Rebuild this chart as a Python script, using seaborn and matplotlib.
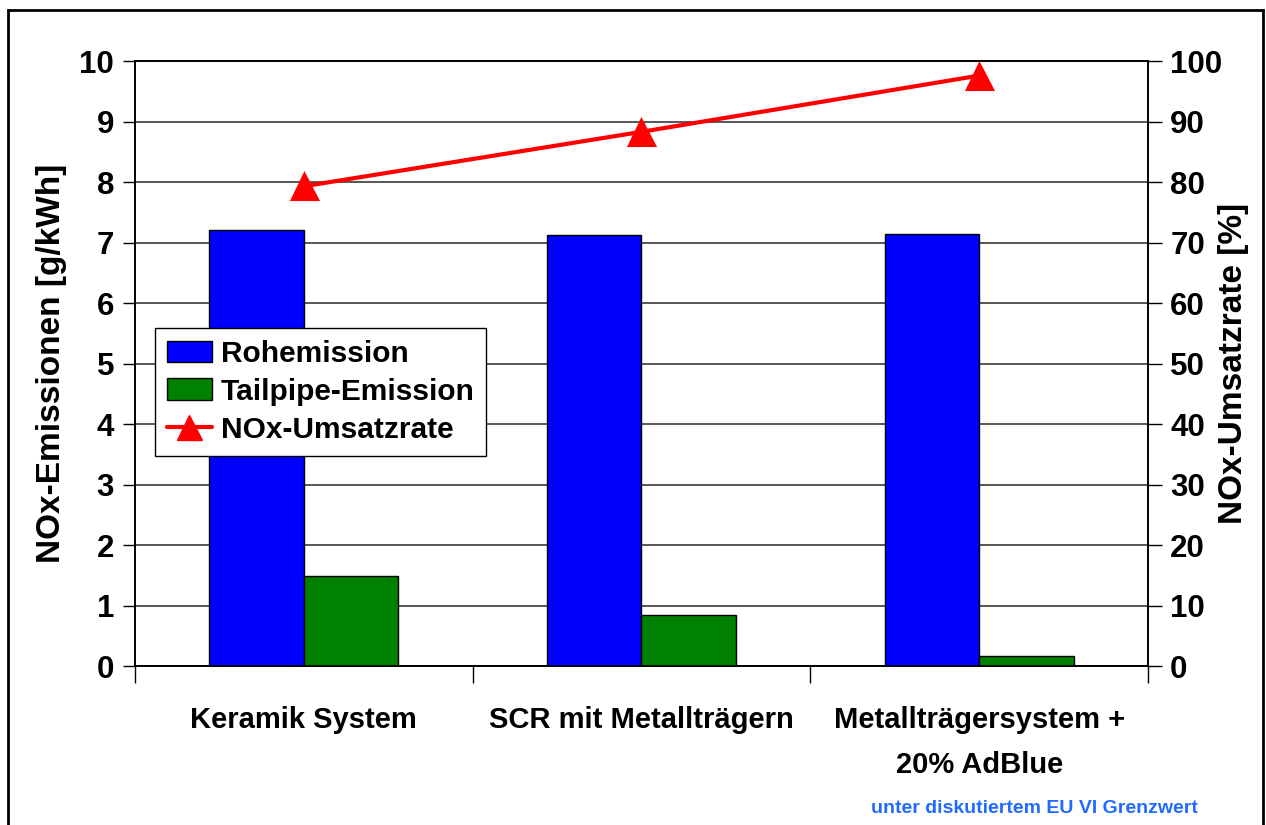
import matplotlib
matplotlib.use("Agg")
import matplotlib.pyplot as plt
from matplotlib.patches import Patch, Rectangle
from matplotlib.lines import Line2D
import seaborn as sns
import pandas as pd

# --- data ---
categories = ["Keramik System", "SCR mit Metallträgern", "Metallträgersystem +\n20% AdBlue"]
rohemission = [7.21, 7.12, 7.14]          # g/kWh
tailpipe = [1.49, 0.84, 0.16]             # g/kWh
umsatzrate = [79.3, 88.3, 97.6]           # %
series_names = ["Rohemission", "Tailpipe-Emission", "NOx-Umsatzrate"]

left_ticks = list(range(0, 11))
right_ticks = list(range(0, 101, 10))

df = pd.DataFrame({
    "Kategorie": categories * 2,
    "Wert": rohemission + tailpipe,
    "Serie": [series_names[0]] * 3 + [series_names[1]] * 3,
})

sns.set_theme(style="white")
plt.rcParams["font.family"] = ["Liberation Sans", "DejaVu Sans"]
plt.rcParams["font.weight"] = "bold"
for key in ["text.color", "axes.labelcolor", "xtick.color", "ytick.color"]:
    plt.rcParams[key] = "black"

fig = plt.figure(figsize=(12.66, 8.25), dpi=100)
ax = fig.add_axes([0.1066, 0.1927, 0.8002, 0.7333])

bar_colors = ["#0000FF", "#008000"]
sns.barplot(data=df, x="Kategorie", y="Wert", hue="Serie", order=categories,
            palette=bar_colors, width=0.56, gap=0, edgecolor="black",
            linewidth=1, saturation=1, ax=ax, legend=False, zorder=3)

ax.set_ylim(0, 10)
ax.set_xlim(-0.5, 2.5)
ax.set_yticks(left_ticks)
ax.set_yticklabels([str(t) for t in left_ticks], fontsize=22.5, fontweight="bold")
ax.yaxis.grid(True, color="#3a3a3a", linewidth=1.2, zorder=0)
ax.set_axisbelow(True)
ax.set_xlabel("")
ax.set_ylabel("NOx-Emissionen [g/kWh]", fontsize=24, fontweight="bold")
ax.yaxis.set_label_coords(-0.0819, 0.5008)
ax.yaxis.label.set_va("center")
ax.tick_params(axis="y", which="major", direction="out", length=9, width=1,
               color="black", pad=6, left=True)

# category labels, boundary ticks between groups
ax.set_xticks(range(len(categories)))
ax.set_xticklabels(categories, fontsize=21, fontweight="bold", linespacing=1.75)
ax.set_xticks([-0.5, 0.5, 1.5, 2.5], minor=True)
ax.tick_params(axis="x", which="major", length=0, pad=29)
ax.tick_params(axis="x", which="minor", direction="out", length=12, width=1,
               color="black", bottom=True)

for side in ["left", "bottom", "top", "right"]:
    ax.spines[side].set_visible(True)
    ax.spines[side].set_color("black")
    ax.spines[side].set_linewidth(1.2)

# secondary axis with conversion rate
ax2 = ax.twinx()
sns.pointplot(x=categories, y=umsatzrate, order=categories, color="#FF0000",
              markers="^", markersize=18, linewidth=3, ax=ax2, zorder=5)
ax2.set_xlim(-0.5, 2.5)
ax2.set_ylim(0, 100)
ax2.set_yticks(right_ticks)
ax2.set_yticklabels([str(t) for t in right_ticks], fontsize=22.5, fontweight="bold")
ax2.set_ylabel("NOx-Umsatzrate [%]", fontsize=24, fontweight="bold")
ax2.yaxis.set_label_coords(1.084, 0.5)
ax2.yaxis.label.set_va("center")
ax2.tick_params(axis="y", direction="out", length=10, width=1, color="black",
                pad=6, right=True)
ax2.grid(False)
for side in ["left", "bottom", "top", "right"]:
    ax2.spines[side].set_color("black")
    ax2.spines[side].set_linewidth(1.2)

handles = [
    Patch(facecolor=bar_colors[0], edgecolor="black", linewidth=1),
    Patch(facecolor=bar_colors[1], edgecolor="black", linewidth=1),
    Line2D([], [], color="#FF0000", linewidth=3, marker="^", markersize=18),
]
leg = ax2.legend(handles, series_names, loc="upper left",
                 bbox_to_anchor=(0.0197, 0.5587), borderaxespad=0,
                 frameon=True, fancybox=False, shadow=False,
                 prop={"size": 21.5, "weight": "bold"}, handlelength=1.5,
                 handleheight=0.75, labelspacing=0.33, handletextpad=0.3,
                 borderpad=0.4)
leg.get_frame().set_edgecolor("black")
leg.get_frame().set_linewidth(1)
leg.get_frame().set_alpha(1)
leg.set_zorder(10)

fig.text(0.8167, 0.0206, "unter diskutiertem EU VI Grenzwert", color="#1F6BFF",
         fontsize=14, fontweight="bold", ha="center", va="center")

# outer frame around the figure
fig.patches.append(Rectangle((0.0063, -0.05), 0.9913, 1.038, transform=fig.transFigure,
                             fill=False, edgecolor="black", linewidth=2))

fig.savefig("out.png", dpi=100)
